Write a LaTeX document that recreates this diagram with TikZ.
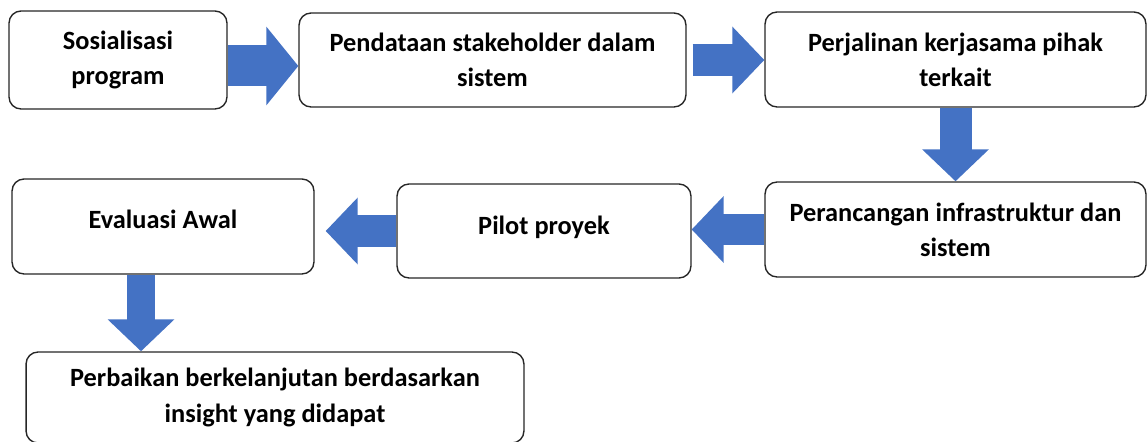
\documentclass[tikz,border=0pt]{standalone}
\usepackage{fontspec}
\setmainfont{Carlito}
\usepackage{xcolor}
\usepackage{tikz}
\usetikzlibrary{positioning,arrows.meta}
\definecolor{panahbiru}{RGB}{68,114,196}

\begin{document}
\begin{tikzpicture}[x=0.02cm, y=-0.02cm, semithick,
    box/.style = {draw=black!85, line width=0.8pt, rounded corners=0.24cm, fill=white, align=center, font=\fontsize{15}{20}\selectfont\bfseries, inner sep=0pt},
    panah/.style = {draw=panahbiru, line width=0.64cm, -{Triangle[length=0.64cm, width=1.3cm]}}]
    \useasboundingbox (0,0) rectangle (1147,442);
    \clip (0,0) rectangle (1147,442);
    \node[box, minimum width=4.36cm, minimum height=1.96cm] (1) at (118,60) {Sosialisasi\\program};
    \node[box, minimum width=7.74cm, minimum height=1.88cm] (2) at (492.5,60) {Pendataan stakeholder dalam\\sistem};
    \node[box, minimum width=7.62cm, minimum height=1.90cm] (3) at (955.5,59.5) {Perjalinan kerjasama pihak\\terkait};
    \node[box, minimum width=7.62cm, minimum height=1.90cm] (4) at (955.5,229.5) {Perancangan infrastruktur dan\\sistem};
    \node[box, minimum width=5.88cm, minimum height=1.88cm, text depth=0.24cm] (5) at (544,231) {Pilot proyek};
    \node[box, minimum width=6.04cm, minimum height=1.90cm, text depth=0.3cm] (6) at (163,226.5) {Evaluasi Awal};
    \node[box, minimum width=9.96cm, minimum height=1.82cm] (7) at (275,397.5) {Perbaikan berkelanjutan berdasarkan\\insight yang didapat};

    \coordinate (a1) at ([yshift=-0.12cm]1.east);
    \coordinate (a6) at ([xshift=-0.44cm]6.south);
    \draw[panah, line width=0.82cm, -{Triangle[length=0.64cm, width=1.54cm]}] (a1) -- (a1 -| 2.west);
    \draw[panah, shorten <=0.12cm] (2.east) -- (2.east -| 3.west);
    \draw[panah] (3.south) -- (4.north);
    \draw[panah] (4.west) -- (4.west -| 5.east);
    \draw[panah, shorten >=0.22cm] (5.west) -- (5.west -| 6.east);
    \draw[panah, line width=0.56cm] (a6) -- (a6 |- 7.north);
\end{tikzpicture}
\end{document}
